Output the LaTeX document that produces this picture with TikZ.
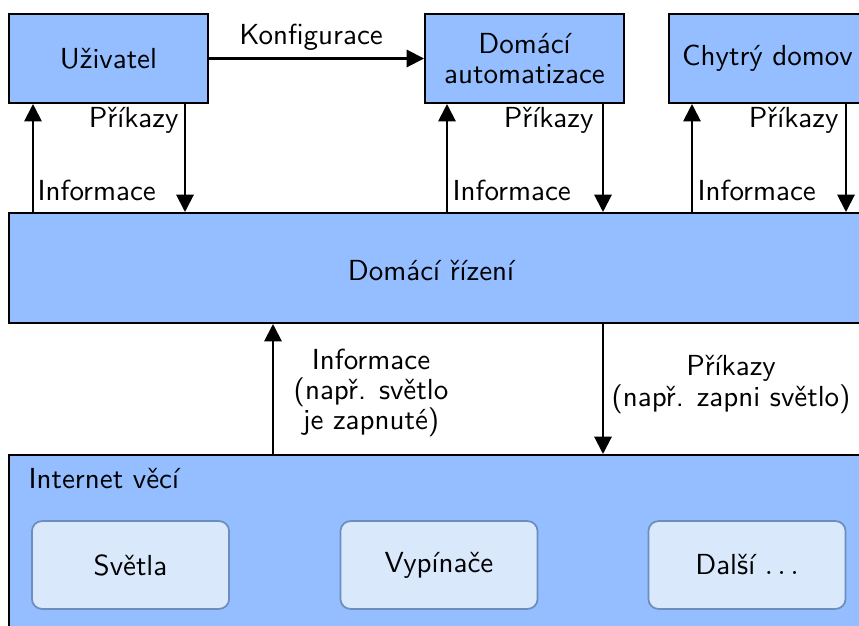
\documentclass[tikz,border=0pt]{standalone}
\usetikzlibrary{arrows.meta,fit}
\definecolor{boxblue}{RGB}{148,190,255}
\definecolor{itemfill}{HTML}{DAE8FC}
\definecolor{itemline}{HTML}{6C8EBF}
\begin{document}
\begin{tikzpicture}[x=0.3448pt,y=-0.3448pt,
  font=\sffamily\fontsize{10}{10.5}\selectfont,
  block/.style={draw, line width=0.7pt, fill=boxblue, inner sep=0pt, align=center},
  topblock/.style={block, minimum width=68.6pt, minimum height=30.7pt},
  item/.style={draw=itemline, line width=0.6pt, fill=itemfill, rounded corners=3.5pt,
    inner sep=0pt, minimum width=68pt, minimum height=30.3pt},
  arr/.style={line width=0.7pt, -{Triangle[length=6pt,width=6pt]}},
  lbl/.style={inner sep=0pt, align=center}]
\useasboundingbox (0,0) rectangle (859,626);

% top row of blocks
\node[topblock] (user) at (108.5,58.5) {Uživatel};
\node[topblock] (auto) at (524.5,58.5) {Domácí\\automatizace};
\node[topblock, minimum width=67.9pt] (smart) at (767.5,58.5) {Chytrý domov};

% central control layer
\node[block, fit={(9,213) (870,323)}] (ctrl) {};
\node[lbl, anchor=base] (ctrltxt) at (431,280) {Domácí řízení};

% IoT layer with its devices
\node[block, fit={(9,455) (870,640)}] (iot) {};
\node[lbl, anchor=base west] (iottxt) at (28,488) {Internet věcí};
\node[item] (lights) at (130.5,565) {Světla};
\node[item] (switches) at (439,565) {Vypínače};
\node[item] (other) at (747,565) {Další $\dots$};

% configuration link
\draw[arr] (user.east) -- (auto.west);
\node[lbl, anchor=base] (konf) at (311,44) {Konfigurace};

% x positions of the vertical links
\coordinate (ua) at (33,0);
\coordinate (ub) at (185,0);
\coordinate (aa) at (447,0);
\coordinate (ab) at (603,0);
\coordinate (sa) at (692,0);
\coordinate (sb) at (846,0);
\coordinate (la) at (273,0);
\coordinate (lb) at (603,0);

\draw[arr] (ctrl.north -| ua) -- (user.south -| ua);
\draw[arr] (user.south -| ub) -- (ctrl.north -| ub);
\draw[arr] (ctrl.north -| aa) -- (auto.south -| aa);
\draw[arr] (auto.south -| ab) -- (ctrl.north -| ab);
\draw[arr] (ctrl.north -| sa) -- (smart.south -| sa);
\draw[arr] (smart.south -| sb) -- (ctrl.north -| sb);

\node[lbl, anchor=base east] (cmdu) at (179,128) {Příkazy};
\node[lbl, anchor=base east] (cmda) at (594,128) {Příkazy};
\node[lbl, anchor=base east] (cmds) at (839,128) {Příkazy};
\node[lbl, anchor=base west] (infu) at (37,200) {Informace};
\node[lbl, anchor=base west] (infa) at (452,200) {Informace};
\node[lbl, anchor=base west] (infs) at (697,200) {Informace};

% links between control and IoT layers
\draw[arr] (iot.north -| la) -- (ctrl.south -| la);
\draw[arr] (ctrl.south -| lb) -- (iot.north -| lb);
\node[lbl, anchor=north] (infl) at (371,348) {Informace\\(např. světlo\\je zapnuté)};
\node[lbl, anchor=north] (cmdl) at (731,355) {Příkazy\\(např. zapni světlo)};
\end{tikzpicture}
\end{document}
